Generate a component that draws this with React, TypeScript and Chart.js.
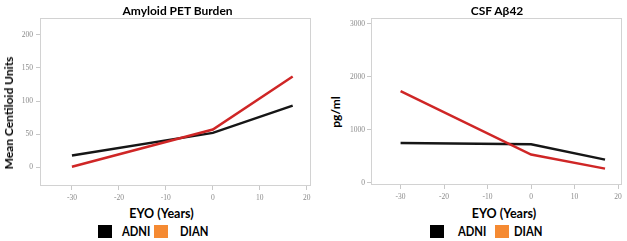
import React, { useEffect, useRef } from "react";
import { Chart, registerables } from "chart.js";

Chart.register(...registerables);

// ---- data ----
const years = [-30, 0, 17];
const petADNI = [18, 52, 93];
const petDIAN = [1, 57, 137];
const csfADNI = [750, 725, 435];
const csfDIAN = [1729, 530, 265];
const xTickValues = [-30, -20, -10, 0, 10, 20];
const petTickValues = [0, 50, 100, 150, 200];
const csfTickValues = [0, 1000, 2000, 3000];
const seriesNames = ["ADNI", "DIAN"];

const X_MIN = -36.8;
const X_MAX = 20.9;

const boxPlugin = {
  id: "boxBorder",
  beforeDatasetsDraw(chart: any) {
    const { ctx, chartArea } = chart;
    ctx.save();
    ctx.strokeStyle = "#d2d2d2";
    ctx.lineWidth = 1;
    ctx.strokeRect(
      Math.round(chartArea.left) + 0.5,
      Math.round(chartArea.top) + 0.5,
      Math.round(chartArea.right - chartArea.left) - 1,
      Math.round(chartArea.bottom - chartArea.top) - 1
    );
    ctx.restore();
  },
};

type P = {
  left: number;
  width: number;
  height: number;
  yAxisWidth: number;
  padRight: number;
  padTop: number;
  xAxisHeight: number;
  yMin: number;
  yMax: number;
  yTicks: number[];
  adni: number[];
  dian: number[];
  yTickPad: number;
};

const tickFont = { family: "'Liberation Serif', serif", size: 7.5 };
const tickColor = "#8a8a8a";
const plainLabel = (v: any) => String(v);

function LineChart(p: P) {
  const ref = useRef<HTMLCanvasElement>(null);
  useEffect(() => {
    const chart = new Chart(ref.current!, {
      type: "line",
      data: {
        datasets: [
          {
            label: seriesNames[0],
            data: years.map((x, i) => ({ x, y: p.adni[i] })),
            borderColor: "#161616",
            borderWidth: 2.5,
            pointRadius: 0,
            tension: 0,
            order: 2,
          },
          {
            label: seriesNames[1],
            data: years.map((x, i) => ({ x, y: p.dian[i] })),
            borderColor: "#cf2626",
            borderWidth: 2.5,
            pointRadius: 0,
            tension: 0,
            order: 1,
          },
        ],
      },
      options: {
        animation: false,
        responsive: false,
        layout: { padding: { top: p.padTop, right: p.padRight, left: 0, bottom: 0 } },
        plugins: {
          legend: { display: false },
          tooltip: { enabled: false },
          title: { display: false },
        },
        scales: {
          x: {
            type: "linear",
            min: X_MIN,
            max: X_MAX,
            afterBuildTicks: (s: any) => {
              s.ticks = xTickValues.map((v) => ({ value: v }));
            },
            afterFit: (s: any) => {
              s.height = p.xAxisHeight;
            },
            grid: { drawOnChartArea: false, drawTicks: true, tickLength: 4, color: "#c8c8c8" },
            border: { display: false },
            ticks: {
              font: tickFont,
              color: tickColor,
              padding: 3.5,
              maxRotation: 0,
              autoSkip: false,
              callback: plainLabel,
            },
          },
          y: {
            type: "linear",
            min: p.yMin,
            max: p.yMax,
            afterBuildTicks: (s: any) => {
              s.ticks = p.yTicks.map((v) => ({ value: v }));
            },
            afterFit: (s: any) => {
              s.width = p.yAxisWidth;
            },
            grid: { drawOnChartArea: false, drawTicks: true, tickLength: 4, color: "#c8c8c8" },
            border: { display: false },
            ticks: {
              font: tickFont,
              color: tickColor,
              padding: p.yTickPad,
              autoSkip: false,
              callback: plainLabel,
            },
          },
        },
      } as any,
      plugins: [boxPlugin],
    });
    return () => chart.destroy();
  }, []);
  return (
    <canvas
      ref={ref}
      width={p.width}
      height={p.height}
      style={{ position: "absolute", left: p.left, top: 0, width: p.width, height: p.height }}
    />
  );
}

const labelFont = "Lato, 'Open Sans', sans-serif";

function Txt(props: { x: number; y: number; text: string; rotate?: boolean; size?: number }) {
  return (
    <div
      style={{
        position: "absolute",
        left: props.x,
        top: props.y,
        transform: `translate(-50%, -50%)${props.rotate ? " rotate(-90deg)" : ""}`,
        fontFamily: labelFont,
        fontWeight: 700,
        fontSize: props.size ?? 12,
        lineHeight: 1,
        whiteSpace: "nowrap",
        color: "#000",
      }}
    >
      {props.text}
    </div>
  );
}

function Legend(props: { sq1: number; t1: number; sq2: number; t2: number }) {
  const sq = (x: number, c: string) => (
    <div style={{ position: "absolute", left: x, top: 225, width: 14, height: 13, background: c }} />
  );
  const t = (x: number, s: string) => (
    <div
      style={{
        position: "absolute",
        left: x,
        top: 231.5,
        transform: "translateY(-50%) scaleX(0.9)",
        transformOrigin: "left center",
        fontFamily: labelFont,
        fontWeight: 700,
        fontSize: 12.5,
        lineHeight: 1,
        whiteSpace: "nowrap",
      }}
    >
      {s}
    </div>
  );
  return (
    <>
      {sq(props.sq1, "#000")}
      {t(props.t1, seriesNames[0])}
      {sq(props.sq2, "#f58a32")}
      {t(props.t2, seriesNames[1])}
    </>
  );
}

export default function App() {
  return (
    <div
      style={{
        position: "absolute",
        left: 0,
        top: 0,
        width: 627,
        height: 241,
        background: "#fff",
        overflow: "hidden",
      }}
    >
      <LineChart
        left={0}
        width={318}
        height={205}
        yAxisWidth={40}
        padRight={7}
        padTop={18}
        xAxisHeight={19}
        yMin={-28}
        yMax={225}
        yTicks={petTickValues}
        adni={petADNI}
        dian={petDIAN}
        yTickPad={3}
      />
      <LineChart
        left={345}
        width={282}
        height={205}
        yAxisWidth={26}
        padRight={5}
        padTop={18}
        xAxisHeight={20}
        yMin={-45}
        yMax={3113}
        yTicks={csfTickValues}
        adni={csfADNI}
        dian={csfDIAN}
        yTickPad={2}
      />
      <Txt x={177.5} y={11} text="Amyloid PET Burden" />
      <Txt x={497} y={11} text="CSF Aβ42" />
      <Txt x={8.5} y={112.5} text="Mean Centiloid Units" rotate />
      <Txt x={336} y={112} text="pg/ml" rotate />
      <Txt x={161.5} y={214} text="EYO (Years)" size={12.5} />
      <Txt x={504} y={214} text="EYO (Years)" size={12.5} />
      <Legend sq1={98} t1={121.5} sq2={154} t2={180} />
      <Legend sq1={430} t1={458} sq2={495} t2={514} />
    </div>
  );
}
